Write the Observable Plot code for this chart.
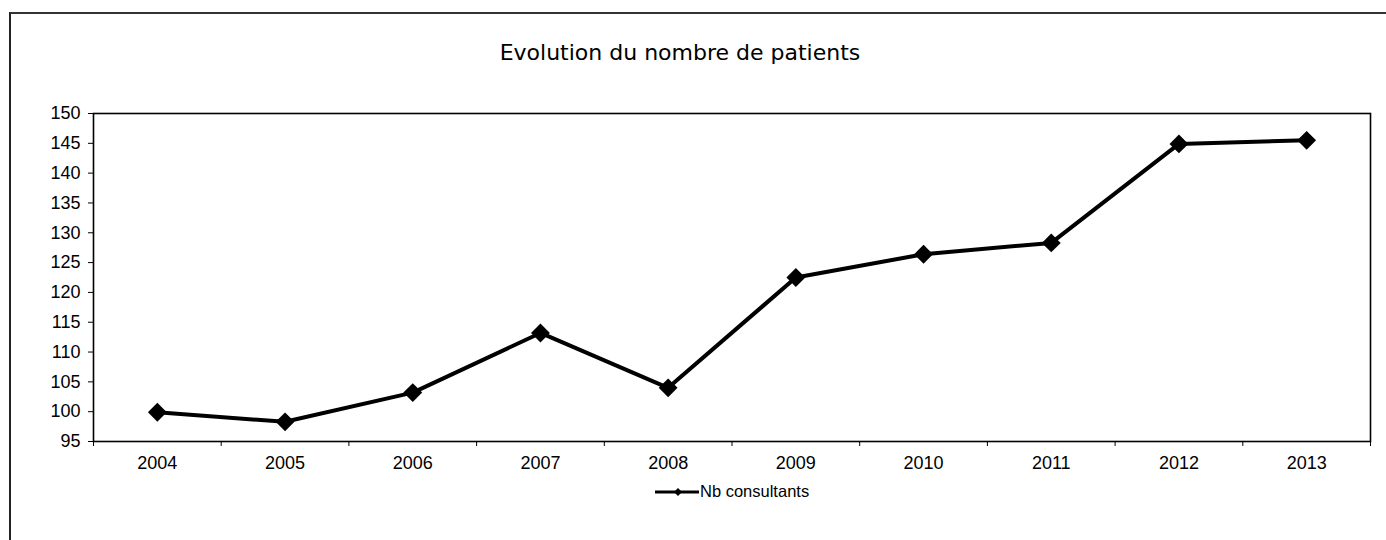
<!DOCTYPE html>
<html>
<head>
<meta charset="utf-8">
<script src="https://cdn.jsdelivr.net/npm/d3@7"></script>
<script src="https://cdn.jsdelivr.net/npm/@observablehq/plot@0.6"></script>
<style>
  html, body { margin: 0; padding: 0; background: #fff; }
  #wrap { position: relative; width: 1386px; height: 540px; overflow: hidden; font-family: "Liberation Sans", Arial, sans-serif; }
  #frame { position: absolute; left: 9px; top: 12px; width: 1400px; height: 600px; border-left: 2px solid #222; border-top: 2px solid #333; }
  #title { position: absolute; left: 0; top: 40px; width: 1360px; text-align: center; font-family: "DejaVu Sans", Verdana, sans-serif; font-size: 22px; color: #000; }
  #chart { position: absolute; left: 0; top: 0; }
  #legend-key { position: absolute; left: 655px; top: 485px; width: 44px; height: 14px; }
  #legend-text { position: absolute; left: 700px; top: 482px; font-size: 16.5px; color: #000; white-space: nowrap; }
</style>
</head>
<body>
<div id="wrap">
  <div id="frame"></div>
  <div id="title">Evolution du nombre de patients</div>
  <div id="chart"></div>
  <svg id="legend-key" width="44" height="14"><line x1="0" y1="7" x2="44" y2="7" stroke="#000" stroke-width="3"/><path d="M23,3 L27,7 L23,11 L19,7 Z" fill="#000"/></svg>
  <div id="legend-text">Nb consultants</div>
</div>
<script>
const years = [2004, 2005, 2006, 2007, 2008, 2009, 2010, 2011, 2012, 2013];
const patients = [99.9, 98.3, 103.2, 113.2, 104.0, 122.5, 126.4, 128.3, 144.9, 145.5];
const yTicks = [95, 100, 105, 110, 115, 120, 125, 130, 135, 140, 145, 150];
const xBoundaries = [2003.5, 2004.5, 2005.5, 2006.5, 2007.5, 2008.5, 2009.5, 2010.5, 2011.5, 2012.5, 2013.5];

const data = years.map((y, i) => ({year: y, value: patients[i]}));

const plot = Plot.plot({
  width: 1386,
  height: 475,
  marginTop: 113,
  marginLeft: 93,
  marginRight: 16,
  marginBottom: 34,
  style: {fontFamily: "'Liberation Sans', Arial, sans-serif", fontSize: "18px", color: "#000", background: "transparent"},
  x: {type: "linear", domain: [2003.5, 2013.5]},
  y: {domain: [95, 150]},
  marks: [
    Plot.axisY({ticks: yTicks, tickSize: 5, tickPadding: 8, label: null, fontSize: 18}),
    Plot.axisX({ticks: xBoundaries, tickSize: 5, tickFormat: () => "", label: null}),
    Plot.axisX({ticks: years, tickSize: 0, tickPadding: 15, tickFormat: d => String(d), label: null, fontSize: 18}),
    Plot.frame({stroke: "#000", strokeWidth: 1.6}),
    Plot.line(data, {x: "year", y: "value", stroke: "#000", strokeWidth: 4}),
    Plot.dot(data, {x: "year", y: "value", symbol: "diamond2", r: 8.5, fill: "#000", stroke: "none"})
  ]
});
document.getElementById("chart").appendChild(plot);
</script>
</body>
</html>
